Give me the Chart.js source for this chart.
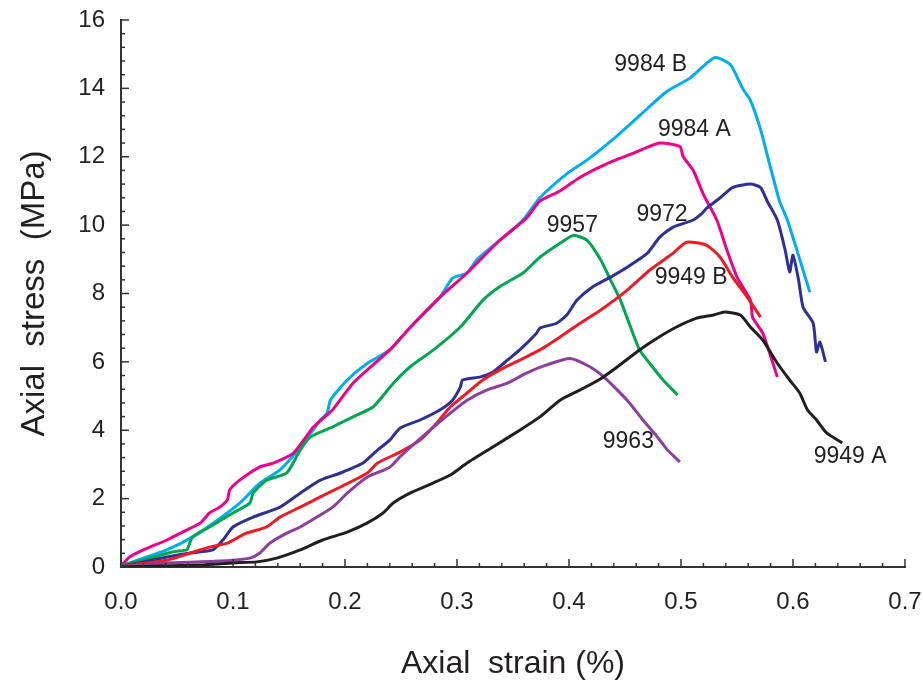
<!DOCTYPE html>
<html lang="en">
<head>
    <meta charset="UTF-8">
    <title>Axial stress vs axial strain</title>
    <script src="https://cdn.jsdelivr.net/npm/chart.js"></script>
    <style>
        body {
            margin: 0;
            background: #ffffff;
        }
        canvas {
            display: block;
        }
    </style>
</head>
<body>
    <canvas id="stressChart" width="923" height="683"></canvas>

    <script>
        // Strain (%) and stress (MPa) for each sample
        const strain9984B = [0, 0.002, 0.020, 0.041, 0.064, 0.086, 0.106, 0.124, 0.142, 0.160, 0.178, 0.184, 0.187, 0.202, 0.220, 0.240, 0.258, 0.285, 0.296, 0.309, 0.318, 0.338, 0.359, 0.374, 0.398, 0.416, 0.439, 0.463, 0.487, 0.508, 0.530, 0.544, 0.555, 0.562, 0.571, 0.579, 0.588, 0.595, 0.606, 0.615];
        const stress9984B = [0, 0.06, 0.26, 0.50, 0.88, 1.37, 1.87, 2.45, 2.84, 3.50, 4.30, 4.50, 4.88, 5.47, 5.96, 6.35, 7.00, 7.90, 8.45, 8.60, 9.00, 9.55, 10.15, 10.80, 11.50, 11.90, 12.50, 13.20, 13.90, 14.30, 14.90, 14.70, 14.00, 13.65, 12.80, 11.80, 10.70, 10.15, 9.00, 8.04];

        const strain9984A = [0, 0.002, 0.008, 0.020, 0.041, 0.055, 0.071, 0.079, 0.088, 0.095, 0.097, 0.106, 0.124, 0.136, 0.154, 0.172, 0.189, 0.207, 0.240, 0.258, 0.285, 0.309, 0.338, 0.362, 0.374, 0.392, 0.410, 0.434, 0.457, 0.481, 0.499, 0.502, 0.511, 0.520, 0.532, 0.541, 0.550, 0.562, 0.564, 0.573, 0.586];
        const stress9984A = [0, 0.10, 0.30, 0.50, 0.79, 1.02, 1.29, 1.58, 1.75, 1.96, 2.25, 2.54, 2.93, 3.04, 3.33, 4.10, 4.60, 5.37, 6.35, 7.00, 7.90, 8.60, 9.55, 10.20, 10.70, 11.00, 11.40, 11.80, 12.10, 12.40, 12.30, 12.00, 11.60, 10.90, 10.15, 9.27, 8.48, 7.80, 7.30, 6.84, 5.56];

        const strain9957 = [0, 0.002, 0.026, 0.046, 0.059, 0.060, 0.064, 0.079, 0.100, 0.115, 0.118, 0.130, 0.148, 0.160, 0.169, 0.189, 0.207, 0.225, 0.243, 0.258, 0.279, 0.303, 0.323, 0.338, 0.359, 0.374, 0.392, 0.404, 0.416, 0.428, 0.437, 0.446, 0.454, 0.463, 0.472, 0.484, 0.497];
        const stress9957 = [0, 0.06, 0.26, 0.44, 0.50, 0.58, 0.88, 1.17, 1.58, 1.87, 2.16, 2.54, 2.75, 3.42, 3.80, 4.10, 4.39, 4.68, 5.37, 5.85, 6.35, 7.02, 7.80, 8.20, 8.60, 9.06, 9.47, 9.70, 9.56, 9.00, 8.40, 7.80, 7.10, 6.35, 5.96, 5.47, 5.03];

        const strain9972 = [0, 0.002, 0.020, 0.041, 0.062, 0.082, 0.091, 0.100, 0.118, 0.142, 0.160, 0.178, 0.196, 0.216, 0.229, 0.240, 0.249, 0.267, 0.285, 0.296, 0.303, 0.305, 0.321, 0.332, 0.345, 0.356, 0.371, 0.374, 0.389, 0.398, 0.407, 0.421, 0.437, 0.452, 0.470, 0.481, 0.493, 0.511, 0.519, 0.523, 0.535, 0.546, 0.562, 0.571, 0.577, 0.586, 0.593, 0.597, 0.600, 0.605, 0.609, 0.618, 0.621, 0.624, 0.629];
        const stress9972 = [0, 0.03, 0.15, 0.29, 0.41, 0.50, 0.79, 1.17, 1.46, 1.75, 2.16, 2.54, 2.75, 3.04, 3.42, 3.71, 4.06, 4.30, 4.60, 4.88, 5.26, 5.47, 5.56, 5.70, 6.05, 6.35, 6.84, 6.99, 7.13, 7.37, 7.80, 8.19, 8.48, 8.77, 9.18, 9.65, 9.94, 10.15, 10.35, 10.50, 10.80, 11.10, 11.20, 11.10, 10.70, 10.15, 9.27, 8.63, 9.12, 8.39, 7.60, 7.13, 6.29, 6.58, 6.00];

        const strain9949B = [0, 0.011, 0.041, 0.062, 0.079, 0.095, 0.112, 0.130, 0.142, 0.160, 0.178, 0.196, 0.220, 0.229, 0.249, 0.267, 0.279, 0.294, 0.309, 0.323, 0.338, 0.356, 0.374, 0.392, 0.410, 0.428, 0.452, 0.472, 0.493, 0.505, 0.523, 0.535, 0.546, 0.559, 0.571];
        const stress9949B = [0, 0.06, 0.20, 0.41, 0.58, 0.70, 0.99, 1.17, 1.46, 1.75, 2.05, 2.34, 2.75, 3.04, 3.36, 3.71, 4.10, 4.68, 5.09, 5.47, 5.76, 6.05, 6.35, 6.73, 7.13, 7.51, 8.10, 8.68, 9.18, 9.50, 9.41, 9.06, 8.48, 7.90, 7.31];

        const strain9963 = [0, 0.041, 0.071, 0.100, 0.115, 0.124, 0.133, 0.148, 0.160, 0.175, 0.189, 0.202, 0.220, 0.240, 0.249, 0.273, 0.294, 0.309, 0.327, 0.345, 0.362, 0.380, 0.401, 0.419, 0.431, 0.443, 0.454, 0.466, 0.479, 0.488, 0.499];
        const stress9963 = [0, 0.12, 0.15, 0.20, 0.26, 0.41, 0.70, 0.99, 1.17, 1.46, 1.75, 2.16, 2.63, 2.92, 3.22, 3.92, 4.50, 4.88, 5.18, 5.38, 5.67, 5.91, 6.10, 5.85, 5.56, 5.18, 4.80, 4.30, 3.80, 3.42, 3.07];

        const strain9949A = [0, 0.071, 0.100, 0.121, 0.139, 0.160, 0.180, 0.202, 0.220, 0.234, 0.243, 0.258, 0.279, 0.294, 0.309, 0.332, 0.356, 0.374, 0.392, 0.410, 0.428, 0.443, 0.463, 0.479, 0.496, 0.514, 0.529, 0.539, 0.553, 0.562, 0.573, 0.586, 0.597, 0.606, 0.613, 0.621, 0.630, 0.644];
        const stress9949A = [0, 0.06, 0.12, 0.15, 0.26, 0.50, 0.79, 1.02, 1.29, 1.58, 1.87, 2.16, 2.46, 2.69, 3.04, 3.51, 4.00, 4.39, 4.88, 5.18, 5.50, 5.85, 6.35, 6.70, 7.02, 7.28, 7.37, 7.46, 7.37, 7.02, 6.64, 5.96, 5.47, 5.09, 4.59, 4.30, 3.92, 3.63];

        // Sample names and where their labels sit (strain, stress)
        const sampleNames = ['9949 A', '9963', '9949 B', '9972', '9957', '9984 A', '9984 B'];
        const labelStrain = [0.651, 0.453, 0.509, 0.483, 0.403, 0.512, 0.473];
        const labelStress = [3.22, 3.66, 8.45, 10.32, 9.97, 12.78, 14.68];

        const xTicks = [0, 0.1, 0.2, 0.3, 0.4, 0.5, 0.6, 0.7];
        const yTicks = [0, 2, 4, 6, 8, 10, 12, 14, 16];

        const colors = ['#231f20', '#8c3f9e', '#ed1c24', '#2e3192', '#00a651', '#ec008c', '#00aeef'];
        const strains = [strain9949A, strain9963, strain9949B, strain9972, strain9957, strain9984A, strain9984B];
        const stresses = [stress9949A, stress9963, stress9949B, stress9972, stress9957, stress9984A, stress9984B];

        const datasets = sampleNames.map((name, i) => ({
            label: name,
            data: strains[i].map((x, j) => ({ x: x, y: stresses[i][j] })),
            showLine: true,
            borderColor: colors[i],
            backgroundColor: colors[i],
            borderWidth: 3,
            pointRadius: 0,
            tension: 0.2
        }));

        // inward tick marks, minor and major
        const innerTicks = {
            id: 'innerTicks',
            afterDraw(chart) {
                const ctx = chart.ctx;
                const xs = chart.scales.x;
                const ys = chart.scales.y;
                const area = chart.chartArea;
                ctx.save();
                ctx.strokeStyle = '#333333';
                ctx.lineWidth = 1.5;
                for (let i = 0; i <= 35; i++) {
                    const px = xs.getPixelForValue(i * 0.02);
                    const len = i % 5 === 0 ? 8 : 4;
                    ctx.beginPath();
                    ctx.moveTo(px, area.bottom);
                    ctx.lineTo(px, area.bottom - len);
                    ctx.stroke();
                }
                for (let i = 0; i <= 40; i++) {
                    const py = ys.getPixelForValue(i * 0.4);
                    const len = i % 5 === 0 ? 8 : 4;
                    ctx.beginPath();
                    ctx.moveTo(area.left, py);
                    ctx.lineTo(area.left + len, py);
                    ctx.stroke();
                }
                ctx.restore();
            }
        };

        // sample names next to the curves
        const curveLabels = {
            id: 'curveLabels',
            afterDatasetsDraw(chart) {
                const ctx = chart.ctx;
                ctx.save();
                ctx.font = '23px "Liberation Sans", Arial, sans-serif';
                ctx.fillStyle = '#231f20';
                ctx.textAlign = 'center';
                ctx.textBaseline = 'middle';
                sampleNames.forEach((name, i) => {
                    const px = chart.scales.x.getPixelForValue(labelStrain[i]);
                    const py = chart.scales.y.getPixelForValue(labelStress[i]);
                    ctx.fillText(name, px, py);
                });
                ctx.restore();
            }
        };

        new Chart(document.getElementById('stressChart').getContext('2d'), {
            type: 'scatter',
            data: { datasets: datasets },
            options: {
                responsive: false,
                animation: false,
                layout: { padding: { top: 20, right: 18, left: 0, bottom: 0 } },
                plugins: {
                    legend: { display: false },
                    tooltip: { enabled: false }
                },
                scales: {
                    x: {
                        type: 'linear',
                        min: 0,
                        max: 0.7,
                        afterFit(scale) {
                            scale.height = 116;
                            scale.paddingLeft = 0;
                            scale.paddingRight = 0;
                        },
                        afterBuildTicks(scale) { scale.ticks = xTicks.map(v => ({ value: v })); },
                        grid: { display: false, drawTicks: false },
                        border: { display: true, color: '#333333', width: 2 },
                        ticks: {
                            padding: 21,
                            color: '#231f20',
                            font: { family: '"Liberation Sans", Arial, sans-serif', size: 24 },
                            callback: v => v.toFixed(1)
                        },
                        title: {
                            display: true,
                            text: 'Axial  strain (%)',
                            color: '#231f20',
                            font: { family: '"Liberation Sans", Arial, sans-serif', size: 32 },
                            padding: { top: 1, bottom: 0 }
                        }
                    },
                    y: {
                        type: 'linear',
                        min: 0,
                        max: 16,
                        afterFit(scale) {
                            scale.width = 121;
                            scale.paddingTop = 0;
                            scale.paddingBottom = 0;
                        },
                        afterBuildTicks(scale) { scale.ticks = yTicks.map(v => ({ value: v })); },
                        grid: { display: false, drawTicks: false },
                        border: { display: true, color: '#333333', width: 2 },
                        ticks: {
                            padding: 16,
                            color: '#231f20',
                            font: { family: '"Liberation Sans", Arial, sans-serif', size: 24 },
                            callback: v => String(v)
                        },
                        title: {
                            display: true,
                            text: 'Axial  stress  (MPa)',
                            color: '#231f20',
                            font: { family: '"Liberation Sans", Arial, sans-serif', size: 33 },
                            padding: { top: 15, bottom: 0 }
                        }
                    }
                }
            },
            plugins: [innerTicks, curveLabels]
        });
    </script>
</body>
</html>
